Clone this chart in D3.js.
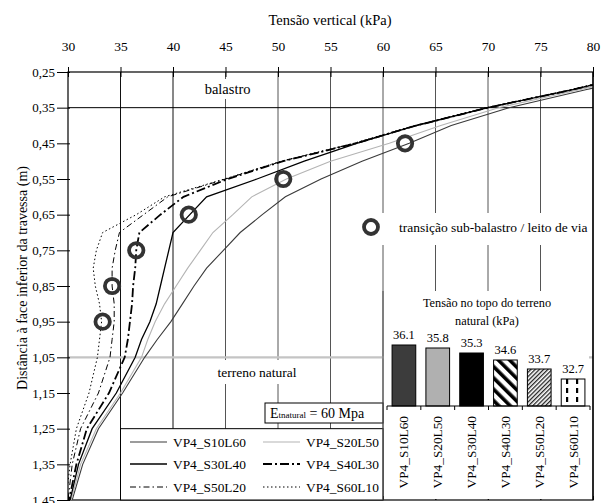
<!doctype html>
<html>
  <head>
    <script src="https://cdnjs.cloudflare.com/ajax/libs/d3/7.8.5/d3.min.js"></script>
    <style>
      body { margin: 0; background: #fff; }
    </style>
  </head>
  <body>
    <svg id="chart" width="602" height="503" font-family="Liberation Serif, Times New Roman, serif"></svg>
    <script>
      // depths (m) shared by every series
      var depths = [0.25, 0.30, 0.35, 0.40, 0.45, 0.50, 0.55, 0.60, 0.65, 0.70, 0.75,
                    0.80, 0.85, 0.90, 0.95, 1.00, 1.05, 1.15, 1.25, 1.35, 1.45];

      // vertical stress (kPa) at each depth
      var s10l60 = [86.4, 79.3, 72.0, 66.5, 62.5, 58.0, 54.1, 50.7, 48.5, 46.4, 44.8,
                    43.2, 42.0, 40.9, 39.8, 38.5, 37.3, 35.2, 32.9, 31.4, 30.4];
      var s20l50 = [86.0, 78.7, 71.0, 65.5, 60.6, 55.0, 50.8, 47.5, 45.7, 43.8, 42.6,
                    41.4, 40.3, 39.2, 38.3, 37.6, 37.0, 35.0, 32.7, 31.2, 30.3];
      var s30l40 = [85.3, 78.0, 70.0, 63.2, 57.5, 52.5, 48.0, 43.2, 41.6, 40.0, 39.6,
                    39.2, 38.8, 38.4, 37.8, 37.0, 36.4, 34.6, 32.3, 31.0, 30.2];
      var s40l30 = [85.3, 78.0, 70.0, 63.2, 57.4, 50.5, 45.2, 41.0, 38.8, 36.8, 36.5,
                    36.4, 36.2, 36.1, 35.9, 35.7, 35.4, 33.9, 31.8, 30.8, 30.1];
      var s50l20 = [85.1, 77.9, 69.9, 63.1, 57.3, 50.4, 45.0, 39.5, 37.2, 34.9, 34.5,
                    34.2, 34.2, 34.4, 34.4, 34.2, 34.0, 32.9, 31.2, 30.4, 30.0];
      var s60l10 = [85.0, 77.8, 69.8, 63.0, 57.2, 50.3, 44.9, 39.2, 36.5, 33.3, 32.7,
                    32.4, 32.6, 33.0, 33.2, 33.0, 32.8, 32.0, 30.8, 30.2, 29.8];

      var seriesNames = ["VP4_S10L60", "VP4_S20L50", "VP4_S30L40", "VP4_S40L30", "VP4_S50L20", "VP4_S60L10"];
      var seriesValues = [s10l60, s20l50, s30l40, s40l30, s50l20, s60l10];

      // transition sub-balastro / leito de via marker per series
      var transDepth = [0.45, 0.55, 0.65, 0.75, 0.85, 0.95];
      var transStress = [62.1, 50.5, 41.5, 36.5, 34.2, 33.3];

      // inset: stress at top of natural ground
      var topStress = [36.1, 35.8, 35.3, 34.6, 33.7, 32.7];

      var xTicks = [30, 35, 40, 45, 50, 55, 60, 65, 70, 75, 80];
      var yTicks = [0.25, 0.35, 0.45, 0.55, 0.65, 0.75, 0.85, 0.95, 1.05, 1.15, 1.25, 1.35, 1.45];

      var serif = "Liberation Serif, Times New Roman, serif";

      var styles = [
        {color: "#3a3a3a", width: 1.1, dash: null},
        {color: "#b4b4b4", width: 1.1, dash: null},
        {color: "#000", width: 1.3, dash: null},
        {color: "#000", width: 1.8, dash: "9,3,2,3"},
        {color: "#000", width: 1, dash: "6,3,1.5,3"},
        {color: "#000", width: 1, dash: "1.5,2.5"}
      ];

      var svg = d3.select("#chart");
      var x = d3.scaleLinear().domain([30, 80]).range([68, 593]);
      var y = d3.scaleLinear().domain([0.25, 1.45]).range([72, 500]);

      svg.append("defs").append("clipPath").attr("id", "plotclip")
        .append("rect").attr("x", x(30)).attr("y", y(0.25))
        .attr("width", x(80) - x(30)).attr("height", y(1.45) - y(0.25));

      // vertical grid lines
      svg.append("g").selectAll("line").data(xTicks.slice(1, -1)).enter().append("line")
        .attr("x1", d => x(d)).attr("x2", d => x(d))
        .attr("y1", y(0.25)).attr("y2", y(1.45))
        .attr("stroke", (d, i) => i < 2 ? "#111" : "#555").attr("stroke-width", 1);

      // horizontal reference lines
      svg.append("line").attr("x1", x(30)).attr("x2", x(80)).attr("y1", y(0.35)).attr("y2", y(0.35))
        .attr("stroke", "#000").attr("stroke-width", 1);
      svg.append("line").attr("x1", x(30)).attr("x2", x(80)).attr("y1", y(1.05)).attr("y2", y(1.05))
        .attr("stroke", "#c4c4c4").attr("stroke-width", 2.2);

      // frame + axes
      var topAxis = d3.axisTop(x).tickValues(xTicks).tickSize(4).tickFormat(d3.format("d"));
      var gTop = svg.append("g").attr("transform", "translate(0," + y(0.25) + ")").call(topAxis);
      gTop.attr("font-family", serif);
      gTop.select(".domain").remove();
      gTop.selectAll(".tick line").attr("y1", 5).attr("y2", -5);
      gTop.selectAll("text").attr("font-size", 13.5).attr("y", -25).attr("dy", "0.32em").attr("fill", "#000");

      var leftAxis = d3.axisLeft(y).tickValues(yTicks).tickSize(11)
        .tickFormat(d => d3.format(".2f")(d).replace(".", ","));
      var gLeft = svg.append("g").attr("transform", "translate(" + x(30) + ",0)").call(leftAxis);
      gLeft.attr("font-family", serif);
      gLeft.select(".domain").remove();
      gLeft.selectAll(".tick line").attr("x1", 2);
      gLeft.selectAll("text").attr("font-size", 13).attr("x", -13).attr("fill", "#000");

      var gBot = svg.append("g").attr("transform", "translate(0," + y(1.45) + ")")
        .call(d3.axisTop(x).tickValues(xTicks).tickSize(4).tickFormat(""));
      gBot.select(".domain").remove();

      svg.append("rect").attr("x", x(30)).attr("y", y(0.25))
        .attr("width", x(80) - x(30)).attr("height", y(1.45) - y(0.25))
        .attr("fill", "none").attr("stroke", "#000").attr("stroke-width", 1.2);

      // labels with white background
      function boxedLabel(txt, cx, cy, w, h, fs) {
        svg.append("rect").attr("x", cx - w / 2).attr("y", cy - h / 2).attr("width", w).attr("height", h).attr("fill", "#fff");
        svg.append("text").attr("x", cx).attr("y", cy + fs * 0.34).attr("text-anchor", "middle")
          .attr("font-size", fs).text(txt);
      }
      boxedLabel("balastro", x(45.2), 89, 58, 20, 14.5);
      boxedLabel("terreno natural", x(48), 372, 112, 24, 13.5);

      // lines
      var line = d3.line().x(d => x(d[0])).y(d => y(d[1]));
      var gLines = svg.append("g").attr("clip-path", "url(#plotclip)");
      seriesValues.forEach(function (vals, i) {
        gLines.append("path")
          .datum(vals.map((v, j) => [v, depths[j]]))
          .attr("d", line)
          .attr("fill", "none")
          .attr("stroke", styles[i].color)
          .attr("stroke-width", styles[i].width)
          .attr("stroke-dasharray", styles[i].dash);
      });

      // transition markers
      svg.append("g").selectAll("circle").data(transDepth).enter().append("circle")
        .attr("cx", (d, i) => x(transStress[i])).attr("cy", d => y(d))
        .attr("r", 7.2).attr("fill", "none").attr("stroke", "#333").attr("stroke-width", 3.8);

      // marker legend
      svg.append("rect").attr("x", 357).attr("y", 213).attr("width", 234).attr("height", 32).attr("fill", "#fff");
      svg.append("circle").attr("cx", 371).attr("cy", 227).attr("r", 7)
        .attr("fill", "none").attr("stroke", "#333").attr("stroke-width", 3.8);
      svg.append("text").attr("x", 399).attr("y", 231.5).attr("font-size", 13.5)
        .text("transição sub-balastro / leito de via");

      // Etnatural box
      svg.append("rect").attr("x", 265).attr("y", 403).attr("width", 118).attr("height", 20)
        .attr("fill", "#fff").attr("stroke", "#000").attr("stroke-width", 1);
      var et = svg.append("text").attr("x", 270).attr("y", 418).attr("font-size", 14);
      et.append("tspan").text("E");
      et.append("tspan").attr("font-size", 9).text("tnatural");
      et.append("tspan").text(" = 60 Mpa");

      // series legend
      svg.append("rect").attr("x", x(35)).attr("y", y(1.25)).attr("width", 383 - x(35)).attr("height", y(1.45) - y(1.25))
        .attr("fill", "#fff").attr("stroke", "#000").attr("stroke-width", 1);
      var legRows = [442, 464, 487];
      var legCols = [130, 263];
      seriesNames.forEach(function (name, i) {
        var lx = legCols[i % 2], ly = legRows[Math.floor(i / 2)];
        svg.append("line").attr("x1", lx).attr("x2", lx + 37).attr("y1", ly).attr("y2", ly)
          .attr("stroke", styles[i].color).attr("stroke-width", styles[i].width)
          .attr("stroke-dasharray", styles[i].dash);
        svg.append("text").attr("x", lx + 43).attr("y", ly + 4.7).attr("font-size", 13.4).text(name);
      });

      // inset bar chart
      var defs = svg.select("defs");
      var p1 = defs.append("pattern").attr("id", "pWide").attr("patternUnits", "userSpaceOnUse")
        .attr("width", 8).attr("height", 8).attr("patternTransform", "rotate(-45)");
      p1.append("rect").attr("width", 8).attr("height", 8).attr("fill", "#fff");
      p1.append("rect").attr("width", 3.6).attr("height", 8).attr("fill", "#000");
      var p2 = defs.append("pattern").attr("id", "pThin").attr("patternUnits", "userSpaceOnUse")
        .attr("width", 3).attr("height", 3).attr("patternTransform", "rotate(45)");
      p2.append("rect").attr("width", 3).attr("height", 3).attr("fill", "#fff");
      p2.append("rect").attr("width", 1.3).attr("height", 3).attr("fill", "#222");
      var p3 = defs.append("pattern").attr("id", "pDash").attr("patternUnits", "userSpaceOnUse")
        .attr("width", 10).attr("height", 9);
      p3.append("rect").attr("width", 10).attr("height", 9).attr("fill", "#fff");
      p3.append("rect").attr("x", 6).attr("y", 1).attr("width", 2.2).attr("height", 5).attr("fill", "#000");

      var barFills = ["#3c3c3c", "#b0b0b0", "#000", "url(#pWide)", "url(#pThin)", "url(#pDash)"];

      svg.append("rect").attr("x", 384).attr("y", 291).attr("width", 205).attr("height", 208).attr("fill", "#fff");
      svg.append("text").attr("x", 487).attr("y", 307).attr("text-anchor", "middle").attr("font-size", 12.3)
        .text("Tensão no topo do terreno");
      svg.append("text").attr("x", 487).attr("y", 325).attr("text-anchor", "middle").attr("font-size", 12.3)
        .text("natural (kPa)");

      var xb = d3.scaleBand().domain(seriesNames).range([387, 590]).paddingInner(0.3).paddingOuter(0.15);
      var yb = d3.scaleLinear().domain([30, 40]).range([406, 306]);

      svg.append("g").selectAll("rect").data(topStress).enter().append("rect")
        .attr("x", (d, i) => xb(seriesNames[i])).attr("width", xb.bandwidth())
        .attr("y", d => yb(d)).attr("height", d => yb(30) - yb(d))
        .attr("fill", (d, i) => barFills[i]).attr("stroke", "#000").attr("stroke-width", 1);

      svg.append("g").selectAll("text").data(topStress).enter().append("text")
        .attr("x", (d, i) => xb(seriesNames[i]) + xb.bandwidth() / 2).attr("y", d => yb(d) - 6)
        .attr("text-anchor", "middle").attr("font-size", 12.5).text(d => d.toFixed(1));

      svg.append("line").attr("x1", 387).attr("x2", 590).attr("y1", yb(30)).attr("y2", yb(30))
        .attr("stroke", "#000").attr("stroke-width", 1);
      var step = xb.step();
      d3.range(7).forEach(function (k) {
        var tx = 387 + k * step;
        svg.append("line").attr("x1", tx).attr("x2", tx).attr("y1", yb(30)).attr("y2", yb(30) + 4)
          .attr("stroke", "#000");
      });
      svg.append("g").selectAll("text.cat").data(seriesNames).enter().append("text")
        .attr("transform", d => "translate(" + (xb(d) + xb.bandwidth() / 2 + 4.5) + "," + (yb(30) + 10) + ") rotate(-90)")
        .attr("text-anchor", "end").attr("font-size", 13.3).text(d => d);

      // redraw right border and 60 gridline over the inset
      svg.append("line").attr("x1", x(60)).attr("x2", x(60)).attr("y1", 291).attr("y2", y(1.45))
        .attr("stroke", "#555");
      svg.append("line").attr("x1", x(80)).attr("x2", x(80)).attr("y1", y(0.25)).attr("y2", y(1.45))
        .attr("stroke", "#000").attr("stroke-width", 1.2);

      // titles
      svg.append("text").attr("x", 330).attr("y", 25).attr("text-anchor", "middle").attr("font-size", 14.5)
        .text("Tensão vertical (kPa)");
      svg.append("text").attr("transform", "translate(27,278) rotate(-90)").attr("text-anchor", "middle")
        .attr("font-size", 14).text("Distância à face inferior da travessa (m)");
    </script>
  </body>
</html>
